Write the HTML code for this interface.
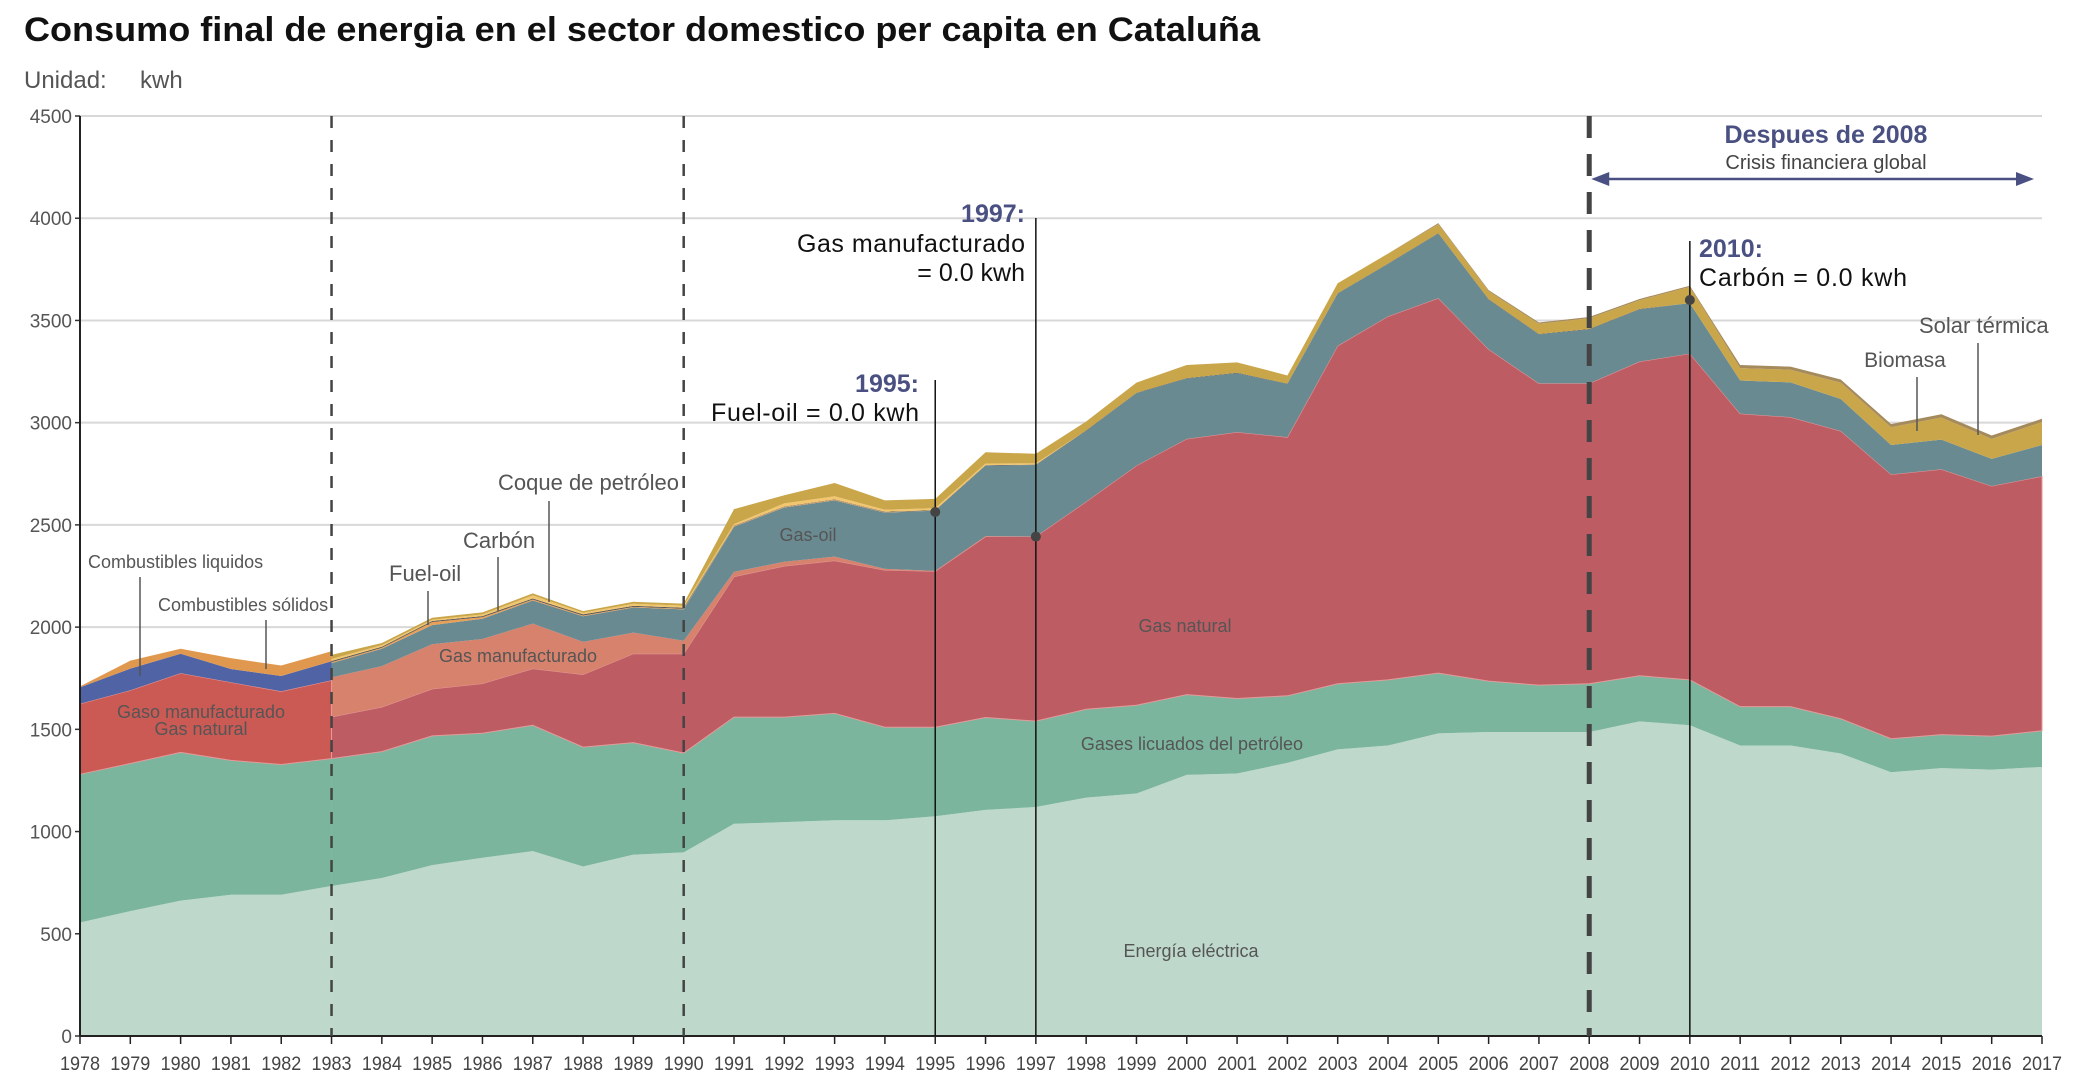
<!DOCTYPE html>
<html><head><meta charset="utf-8"><style>
body{margin:0;background:#fff;}
svg{display:block;font-family:"Liberation Sans",sans-serif;}
</style></head><body>
<svg id="chart" width="2098" height="1092" viewBox="0 0 2098 1092" xmlns="http://www.w3.org/2000/svg">
<text x="24" y="41" font-size="34" font-weight="bold" fill="#111" textLength="1236" lengthAdjust="spacingAndGlyphs">Consumo final de energia en el sector domestico per capita en Cataluña</text>
<text x="24" y="88" font-size="24" fill="#555">Unidad:</text>
<text x="140" y="88" font-size="24" fill="#555">kwh</text>
<g id="grid"></g><g id="areas"></g><g id="axes"></g><g id="annot"></g>
</svg>
<script>
const years=[];for(let y=1978;y<=2017;y++)years.push(y);
const yTicks=[0,500,1000,1500,2000,2500,3000,3500,4000,4500];
// series (one value per year 1978..2017)
const elec=[555,611,662,691,691,734,773,836,872,904,829,887,898,1038,1046,1055,1055,1075,1106,1120,1166,1186,1277,1284,1336,1402,1421,1480,1487,1487,1487,1539,1520,1421,1421,1382,1290,1310,1303,1316];
const glp=[725,722,725,657,637,623,618,632,609,616,584,548,486,522,514,523,455,435,452,420,432,432,393,367,328,321,321,295,249,229,236,223,222,190,190,170,164,164,164,177];
// early period (1978-1983)
const gasMixEarly=[345,358,388,382,358,383];
const liquidosEarly=[80,106,95,65,75,93];
const solidosEarly=[5,39,24,53,51,49];
// later period (from 1983; index 0 = 1983)
const gasNat=[204,218,230,243,277,355,435,486,687,739,747,769,763,885,903,1016,1172,1251,1303,1265,1653,1778,1834,1623,1476,1469,1537,1596,1433,1416,1407,1293,1298,1223,1245];
const gasManuf=[193,200,218,218,220,160,103,63,23,21,20,6,2,2,0,0,0,0,0,0,0,0,0,0,0,0,0,0,0,0,0,0,0,0,0];
const gasOil=[70,85,94,99,113,125,123,154,221,265,275,275,295,345,350,346,354,295,288,260,255,256,316,243,240,264,255,247,162,170,157,144,145,133,153];
const fuelOil=[5,5,15,8,5,4,3,3,3,3,3,2,0,0,0,0,0,0,0,0,0,0,0,0,0,0,0,0,0,0,0,0,0,0,0];
const carbon=[5,5,5,5,5,5,5,5,2,2,2,2,2,2,2,2,2,2,2,2,2,2,2,2,2,2,2,0,0,0,0,0,0,0,0];
const coque=[10,8,6,8,15,8,10,10,8,15,15,10,10,8,6,0,0,0,0,0,0,0,0,0,0,0,0,0,0,0,0,0,0,0,0];
const biomasa=[20,10,10,10,10,8,10,10,73,40,65,46,45,55,47,44,50,64,51,40,49,49,44,39,50,53,43,79,61,62,80,87,108,98,112];
const solar=[0,0,0,0,0,0,0,0,0,0,0,0,0,0,0,0,0,0,0,0,0,0,5,5,6,6,6,6,15,15,15,15,16,16,16];

const X0=80,X1=2042,Y0=1036,Y1=116;
const x=yr=>X0+(yr-1978)*(X1-X0)/39;
const y=v=>Y0-v*(Y0-Y1)/4500;
const NS="http://www.w3.org/2000/svg";
function mk(tag,attrs,parent,text){const e=document.createElementNS(NS,tag);for(const k in attrs)e.setAttribute(k,attrs[k]);if(text!==undefined)e.textContent=text;parent.appendChild(e);return e;}
const grid=document.getElementById('grid'),areas=document.getElementById('areas'),axes=document.getElementById('axes'),annot=document.getElementById('annot');

yTicks.forEach(t=>{
  const l=mk('line',{x1:X0,x2:X1,y1:y(t),y2:y(t),stroke:'#d8d8d8','stroke-width':2},grid);
  
  
  const tx=mk('text',{x:X0-8,y:y(t)+7,'font-size':19,fill:'#555','text-anchor':'end'},axes,String(t));
  
  
  mk('line',{x1:X0-5,x2:X0,y1:y(t),y2:y(t),stroke:'#333','stroke-width':1.5},axes);
});

function stack(yrs,list){
  let base=yrs.map(()=>0);
  list.forEach(s=>{
    const top=base.map((b,i)=>b+s.v[i]);
    let d='M'+yrs.map((yr,i)=>x(yr)+','+y(top[i])).join(' L');
    for(let i=yrs.length-1;i>=0;i--)d+=' L'+x(yrs[i])+','+y(base[i]);
    const p=mk('path',{d:d+'Z',fill:s.c,stroke:s.s||'none','stroke-width':s.s?1:0},areas);
    
    
    base=top;
  });
}
const late=years.slice(5);
stack(late,[
 {n:'energia-electrica',v:elec.slice(5),c:'#bed9cb'},
 {n:'gases-licuados',v:glp.slice(5),c:'#7bb59d'},
 {n:'gas-natural',v:gasNat,c:'#bd5c63',s:'#e59a9a'},
 {n:'gas-manufacturado',v:gasManuf,c:'#d7826c'},
 {n:'gas-oil',v:gasOil,c:'#6a8a91'},
 {n:'fuel-oil',v:fuelOil,c:'#e8a058'},
 {n:'carbon',v:carbon,c:'#555'},
 {n:'coque-petroleo',v:coque,c:'#f2c66e'},
 {n:'biomasa',v:biomasa,c:'#c9a64a'},
 {n:'solar-termica',v:solar,c:'#a58a5c'}
]);
const early=years.slice(0,6);
stack(early,[
 {n:'energia-electrica-early',v:elec.slice(0,6),c:'#bed9cb'},
 {n:'gases-licuados-early',v:glp.slice(0,6),c:'#7bb59d'},
 {n:'gaso-manufacturado-gas-natural',v:gasMixEarly,c:'#cb5a55',s:'#e59a9a'},
 {n:'combustibles-liquidos',v:liquidosEarly,c:'#4f63a5'},
 {n:'combustibles-solidos',v:solidosEarly,c:'#e0984f'}
]);

// axes
mk('line',{x1:X0,x2:X0,y1:Y1,y2:Y0,stroke:'#222','stroke-width':2},axes);
mk('line',{x1:X0,x2:X1,y1:Y0,y2:Y0,stroke:'#222','stroke-width':2},axes);
years.forEach(yr=>{
  mk('line',{x1:x(yr),x2:x(yr),y1:Y0,y2:Y0+8,stroke:'#222','stroke-width':1.5},axes);
  const t=mk('text',{x:x(yr),y:Y0+34,'font-size':19,fill:'#444','text-anchor':'middle',textLength:40,lengthAdjust:'spacingAndGlyphs'},axes,String(yr));
  
  
});

// dashed lines
[[1983,2.5,'12 12'],[1990,2.5,'12 12'],[2008,5,'22 16']].forEach(a=>{
  const l=mk('line',{x1:x(a[0]),x2:x(a[0]),y1:Y1,y2:Y0,stroke:'#444','stroke-width':a[1],'stroke-dasharray':a[2]},annot);
  
  
});
// annotation lines with dots
[[1995,380,2563],[1997,218,2443],[2010,241,3600]].forEach(a=>{
  mk('line',{x1:x(a[0]),x2:x(a[0]),y1:a[1],y2:Y0,stroke:'#111','stroke-width':1.5},annot);
  mk('circle',{cx:x(a[0]),cy:y(a[2]),r:5,fill:'#444'},annot);
});
function txt(name,s,xx,yy,opt){const t=mk('text',Object.assign({x:xx,y:yy,'font-size':25,fill:'#111'},opt||{}),annot,s);return t;}
const blue='#4a5182';
txt('note-1997-title','1997:',1025,222,{'text-anchor':'end','font-weight':'bold',fill:blue});
txt('note-1997-line1','Gas manufacturado',1025,252,{'text-anchor':'end',textLength:228});
txt('note-1997-line2','= 0.0 kwh',1025,281,{'text-anchor':'end'});
txt('note-1995-title','1995:',919,392,{'text-anchor':'end','font-weight':'bold',fill:blue});
txt('note-1995-line1','Fuel-oil = 0.0 kwh',919,421,{'text-anchor':'end',textLength:208});
txt('note-2010-title','2010:',1699,257,{'font-weight':'bold',fill:blue});
txt('note-2010-line1','Carbón = 0.0 kwh',1699,286,{textLength:208});
txt('period-title','Despues de 2008',1826,143,{'text-anchor':'middle','font-weight':'bold',fill:blue});
txt('period-subtitle','Crisis financiera global',1826,169,{'text-anchor':'middle','font-size':20,fill:'#444'});
mk('line',{x1:x(2008)+14,x2:2020,y1:179,y2:179,stroke:blue,'stroke-width':2.5},annot);
mk('polygon',{points:(x(2008)+2)+',179 '+(x(2008)+20)+',172 '+(x(2008)+20)+',186',fill:blue},annot);
mk('polygon',{points:'2034,179 2016,172 2016,186',fill:blue},annot);

const g='#555';
function lab(name,s,xx,yy,size,anchor,lx,ly1,ly2){txt(name,s,xx,yy,{'font-size':size,fill:g,'text-anchor':anchor||'start'});if(lx!==undefined)mk('line',{x1:lx,x2:lx,y1:ly1,y2:ly2,stroke:'#555','stroke-width':1.5},annot);}
lab('label-combustibles-liquidos','Combustibles liquidos',88,568,18,'start',140,577,676);
lab('label-combustibles-solidos','Combustibles sólidos',158,611,18,'start',266,620,669);
lab('label-fuel-oil','Fuel-oil',389,581,22,'start',428,591,625);
lab('label-carbon','Carbón',463,548,22,'start',498,557,611);
lab('label-coque','Coque de petróleo',498,490,22,'start',549,501,602);
lab('label-gaso-manufacturado','Gaso manufacturado',201,718,18,'middle');
lab('label-gas-natural-early','Gas natural',201,735,18,'middle');
lab('label-gas-manufacturado','Gas manufacturado',518,662,18,'middle');
lab('label-gas-oil','Gas-oil',808,541,18,'middle');
lab('label-gas-natural','Gas natural',1185,632,18,'middle');
lab('label-gases-licuados','Gases licuados del petróleo',1192,750,18,'middle');
lab('label-energia-electrica','Energía eléctrica',1191,957,18,'middle');
lab('label-biomasa','Biomasa',1905,367,21,'middle',1917,377,431);
lab('label-solar-termica','Solar térmica',1919,333,22,'start',1978,343,435);
</script>
</body></html>
